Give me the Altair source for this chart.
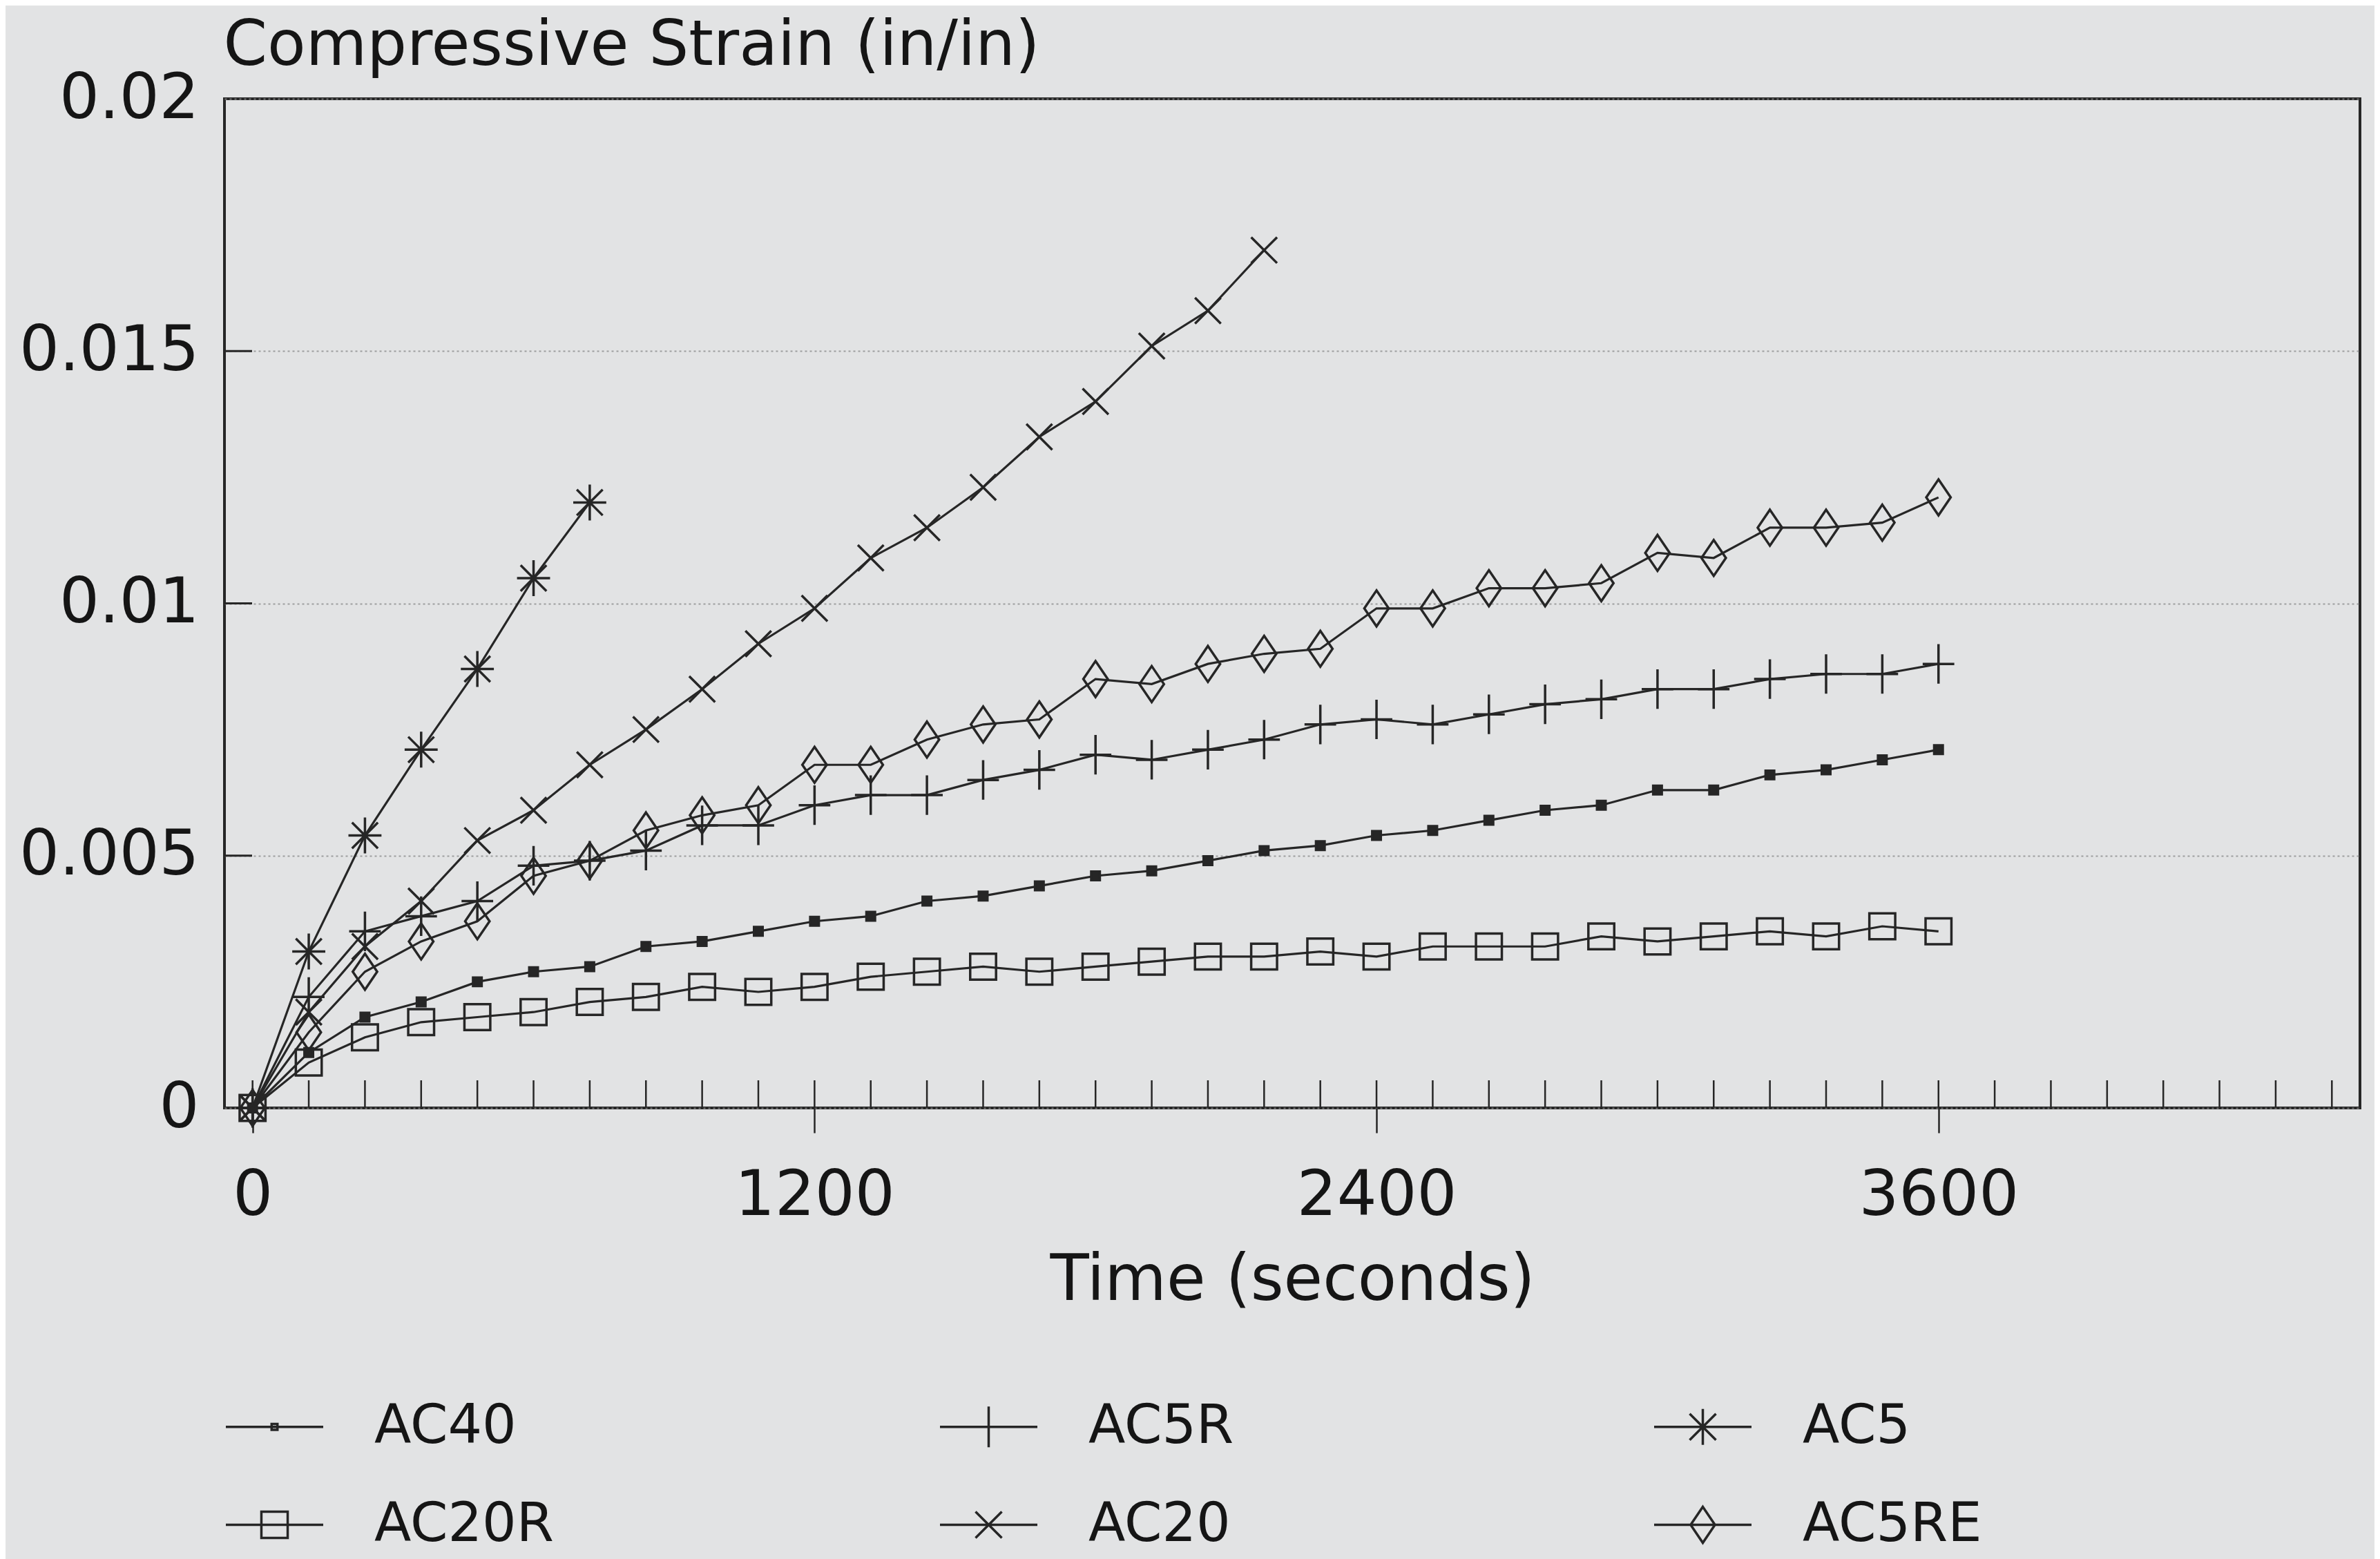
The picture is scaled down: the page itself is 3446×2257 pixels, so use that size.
import altair as alt
import pandas as pd

# ---------------- data ----------------
time_s = [0, 120, 240, 360, 480, 600, 720, 840, 960, 1080, 1200, 1320, 1440, 1560,
          1680, 1800, 1920, 2040, 2160, 2280, 2400, 2520, 2640, 2760, 2880, 3000,
          3120, 3240, 3360, 3480, 3600]

ac40 = [0, 0.0011, 0.0018, 0.0021, 0.0025, 0.0027, 0.0028, 0.0032, 0.0033, 0.0035,
        0.0037, 0.0038, 0.0041, 0.0042, 0.0044, 0.0046, 0.0047, 0.0049, 0.0051,
        0.0052, 0.0054, 0.0055, 0.0057, 0.0059, 0.0060, 0.0063, 0.0063, 0.0066,
        0.0067, 0.0069, 0.0071]
ac20r = [0, 0.0009, 0.0014, 0.0017, 0.0018, 0.0019, 0.0021, 0.0022, 0.0024, 0.0023,
         0.0024, 0.0026, 0.0027, 0.0028, 0.0027, 0.0028, 0.0029, 0.0030, 0.0030,
         0.0031, 0.0030, 0.0032, 0.0032, 0.0032, 0.0034, 0.0033, 0.0034, 0.0035,
         0.0034, 0.0036, 0.0035]
ac5r = [0, 0.0022, 0.0035, 0.0038, 0.0041, 0.0048, 0.0049, 0.0051, 0.0056, 0.0056,
        0.0060, 0.0062, 0.0062, 0.0065, 0.0067, 0.0070, 0.0069, 0.0071, 0.0073,
        0.0076, 0.0077, 0.0076, 0.0078, 0.0080, 0.0081, 0.0083, 0.0083, 0.0085,
        0.0086, 0.0086, 0.0088]
ac5re = [0, 0.0015, 0.0027, 0.0033, 0.0037, 0.0046, 0.0049, 0.0055, 0.0058, 0.0060,
         0.0068, 0.0068, 0.0073, 0.0076, 0.0077, 0.0085, 0.0084, 0.0088, 0.0090,
         0.0091, 0.0099, 0.0099, 0.0103, 0.0103, 0.0104, 0.0110, 0.0109, 0.0115,
         0.0115, 0.0116, 0.0121]
ac20 = [0, 0.0019, 0.0032, 0.0041, 0.0053, 0.0059, 0.0068, 0.0075, 0.0083, 0.0092,
        0.0099, 0.0109, 0.0115, 0.0123, 0.0133, 0.0140, 0.0151, 0.0158, 0.0170]
ac5 = [0, 0.0031, 0.0054, 0.0071, 0.0087, 0.0105, 0.0120]

series_order = ["AC40", "AC5R", "AC5", "AC20R", "AC20", "AC5RE"]
# legend entries fill column by column: (AC40, AC20R) (AC5R, AC20) (AC5, AC5RE)
legend_order = ["AC40", "AC20R", "AC5R", "AC20", "AC5", "AC5RE"]
series_values = {"AC40": ac40, "AC5R": ac5r, "AC5": ac5,
                 "AC20R": ac20r, "AC20": ac20, "AC5RE": ac5re}

x_labels = [0, 1200, 2400, 3600]
y_labels = [0, 0.005, 0.01, 0.015, 0.02]
y_inner_ticks = [0.005, 0.01, 0.015]
x_minor_ticks = list(range(0, 4441, 120))

rows = []
for name in series_order:
    for t, v in zip(time_s, series_values[name]):
        rows.append({"series": name, "time": t, "strain": v})
df = pd.DataFrame(rows)
df_xt = pd.DataFrame({"tick": x_minor_ticks})
df_yt = pd.DataFrame({"ytick": y_inner_ticks})

# ---------------- styling ----------------
W, H = 3092, 1461
FONT = "DejaVu Sans"
INK = "#262626"
TXT = "#151515"
BG = "#e2e3e4"

xscale = alt.Scale(domain=[-60, 4500], nice=False, zero=False)
yscale = alt.Scale(domain=[0, 0.02], nice=False)

marker_path = {
    "AC40": "M-0.12,-0.12H0.12V0.12H-0.12Z",
    "AC5R": "M0,-0.55V0.55M-0.44,0H0.44",
    "AC5": "M0,-0.5V0.5M-0.46,0H0.46M-0.36,-0.36L0.36,0.36M-0.36,0.36L0.36,-0.36",
    "AC20R": "M-0.36,-0.36H0.36V0.36H-0.36Z",
    "AC20": "M-0.36,-0.36L0.36,0.36M-0.36,0.36L0.36,-0.36",
    "AC5RE": "M0,-0.5L0.34,0L0,0.5L-0.34,0Z",
}
legend_path = {
    "AC40": "M-1,0H1M-0.06,-0.06H0.06V0.06H-0.06Z",
    "AC5R": "M-1,0H1M0,-0.42V0.42",
    "AC5": "M-1,0H1M0,-0.37V0.37M-0.27,-0.27L0.27,0.27M-0.27,0.27L0.27,-0.27",
    "AC20R": "M-1,0H1M-0.27,-0.27H0.27V0.27H-0.27Z",
    "AC20": "M-1,0H1M-0.27,-0.27L0.27,0.27M-0.27,0.27L0.27,-0.27",
    "AC5RE": "M-1,0H1M0,-0.37L0.25,0L0,0.37L-0.25,0Z",
}
fill_of = {"AC40": INK}

x_axis = alt.Axis(
    values=x_labels, format="d", title="Time (seconds)", grid=False, domain=False,
    tickSize=36, tickWidth=2.5, tickColor=INK, labelPadding=46, labelLimit=0,
    labelFont=FONT, labelFontSize=91, labelColor=TXT,
    titleFont=FONT, titleFontSize=92, titleFontWeight="normal", titleColor=TXT,
    titleY=277, titleBaseline="alphabetic", titleLimit=0,
)
y_axis = alt.Axis(
    values=y_labels, format="~g", title="Compressive Strain (in/in)",
    grid=True, gridDash=[3, 4], gridColor="#8c8c8c", gridWidth=2, gridOpacity=0.8,
    domain=False, ticks=False, labelPadding=37, labelLimit=0,
    labelFont=FONT, labelFontSize=91, labelColor=TXT,
    titleFont=FONT, titleFontSize=91, titleFontWeight="normal", titleColor=TXT,
    titleAngle=0, titleAlign="left", titleBaseline="alphabetic",
    titleX=-2, titleY=-50, titleLimit=0,
)

lines = alt.Chart(df).mark_line(color=INK, strokeWidth=3.2).encode(
    x=alt.X("time:Q", scale=xscale, axis=x_axis),
    y=alt.Y("strain:Q", scale=yscale, axis=y_axis),
    detail="series:N",
    order="time:Q",
)

points = alt.Chart(df).mark_point(opacity=1, stroke=INK, strokeWidth=3.5, size=104 * 104).encode(
    x=alt.X("time:Q", scale=xscale),
    y=alt.Y("strain:Q", scale=yscale),
    shape=alt.Shape("series:N", scale=alt.Scale(domain=series_order,
                                                range=[marker_path[s] for s in series_order]),
                    legend=None),
    fill=alt.Fill("series:N", scale=alt.Scale(domain=series_order,
                                              range=[fill_of.get(s, "transparent") for s in series_order]),
                  legend=None),
)

legend_layer = alt.Chart(df).transform_filter("false").mark_point(
    opacity=1, stroke=INK, strokeWidth=3.5, filled=False
).encode(
    shape=alt.Shape(
        "series:N",
        scale=alt.Scale(domain=legend_order, range=[legend_path[s] for s in legend_order]),
        legend=alt.Legend(
            title=None, orient="none", legendX=0, legendY=1850,
            columns=3, gridAlign="all", columnPadding=552, rowPadding=30,
            symbolSize=141 * 141, symbolStrokeWidth=3.5, symbolStrokeColor=INK,
            symbolFillColor="transparent", symbolOpacity=1,
            labelFont=FONT, labelFontSize=78, labelColor=TXT, labelOffset=72,
            labelLimit=0, labelBaseline="middle",
        ),
    ),
)

x_inner = alt.Chart(df_xt).mark_rule(color=INK, strokeWidth=2.5).encode(
    x=alt.X("tick:Q", scale=xscale),
    y=alt.value(H - 40),
    y2=alt.value(H),
)
y_inner = alt.Chart(df_yt).mark_rule(color=INK, strokeWidth=3).encode(
    y=alt.Y("ytick:Q", scale=yscale),
    x=alt.value(0),
    x2=alt.value(40),
)

chart = alt.layer(x_inner, y_inner, lines, points, legend_layer).resolve_scale(
    shape="independent", fill="independent"
).properties(
    width=W, height=H,
    autosize=alt.AutoSizeParams(type="none"),
    padding={"left": 317, "top": 135, "right": 21, "bottom": 653},
    background=BG,
).configure_view(
    stroke=INK, strokeWidth=4, fill=BG,
)

chart.save("out.html", embed_options={"renderer": "svg", "actions": False})
